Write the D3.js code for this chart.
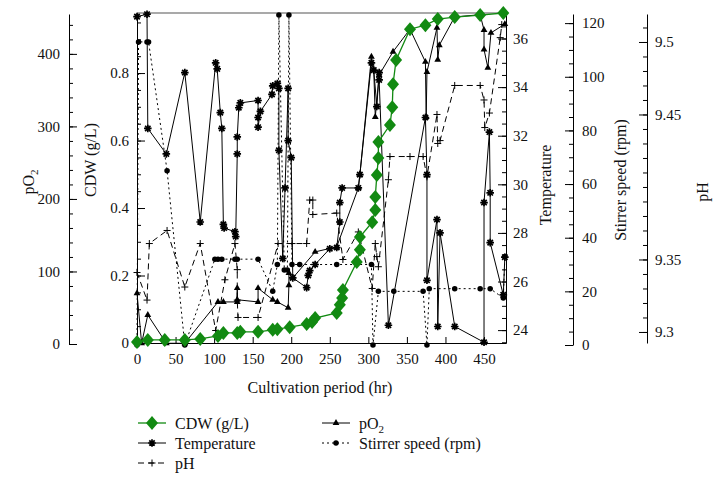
<!DOCTYPE html>
<html>
<head>
<meta charset="utf-8">
<script src="https://cdn.jsdelivr.net/npm/d3@7"></script>
<style>
body { margin: 0; background: #fff; }
text { font-family: "Liberation Serif", "DejaVu Serif", "Times New Roman", serif; }
</style>
</head>
<body>
<svg id="chart"></svg>
<script>
// values, each point is [hour, value]
let cdw = [[0,0.003],[14,0.009],[36,0.009],[62,0.009],[82,0.012],[105,0.021],[112,0.030],[130,0.030],[134,0.033],
  [157,0.033],[176,0.039],[182,0.041],[198,0.047],[220,0.056],[227,0.062],[231,0.074],[259,0.089],[263,0.113],
  [266,0.133],[267,0.157],[285,0.24],[289,0.276],[289,0.314],[305,0.358],[309,0.394],[309,0.433],[311,0.498],
  [313,0.548],[313,0.596],[328,0.646],[331,0.699],[332,0.767],[336,0.839],[354,0.930],[374,0.942],[390,0.960],
  [412,0.966],[445,0.972],[475,0.978]]

let temperature = [[0,36.9],[13,37.0],[14,32.3],[38,31.25],[62,34.6],[82,28.45],[102,35.0],[104,34.75],[108,32.95],
  [110,32.3],[112,28.35],[113,28.2],[127,28.05],[128,27.85],[130,31.25],[130,31.95],[132,33.15],[134,33.35],
  [157,33.45],[157,32.75],[157,32.35],[160,33.0],[175,33.7],[176,34.05],[182,34.15],[184,33.95],[184,31.4],
  [189,26.95],[192,29.85],[196,33.95],[196,31.8],[200,31.1],[202,26.15],[220,25.75],[222,26.25],[224,26.45],
  [231,26.7],[250,27.35],[259,27.4],[263,28.45],[263,29.25],[266,29.85],[287,29.85],[289,30.4],[304,35.0],
  [307,34.7],[311,33.2],[314,34.6],[314,34.3],[326,24.2],[374,32.75],[376,30.4],[376,26.05],[389,28.55],
  [390,24.15],[393,28.0],[412,24.15],[450,23.5],[450,29.25],[457,32.15],[458,29.65],[458,27.6],[475,25.45],[477,27.0]]

let ph = [[0,9.341],[13,9.322],[16,9.361],[39,9.370],[62,9.331],[82,9.361],[102,9.301],[114,9.336],[127,9.361],
  [130,9.343],[130,9.322],[131,9.310],[157,9.310],[183,9.361],[201,9.361],[220,9.361],[224,9.391],[228,9.391],
  [228,9.381],[259,9.382],[267,9.350],[287,9.369],[305,9.330],[309,9.361],[311,9.352],[313,9.345],[326,9.405],
  [328,9.421],[354,9.421],[371,9.421],[376,9.407],[389,9.450],[390,9.430],[393,9.432],[412,9.470],[445,9.470],
  [450,9.460],[451,9.441],[457,9.451],[471,9.503],[473,9.512]]

let po2 = [[0,70],[6,1],[14,40],[38,1],[62,1],[105,58],[112,58],[130,58],[130,77],[130,61],[157,58],[157,77],
  [176,61],[182,58],[196,50],[197,81],[197,98],[202,91],[231,127],[259,134],[287,215],[289,233],[304,396],
  [307,378],[309,313],[314,371],[332,403],[354,434],[374,389],[375,313],[376,375],[389,436],[390,392],[392,412],
  [412,451],[445,454],[450,433],[450,406],[455,381],[459,429],[477,441]]

let stirrer = [[0,0],[2,113],[13,113],[15,113],[39,65],[62,0],[101,32],[105,32],[110,32],[127,32],[130,32],
  [157,32],[176,20],[182,30],[184,123],[191,28],[195,28],[197,123],[201,30],[211,30],[259,30],[304,30],[306,0],
  [313,20],[333,20],[371,20],[376,0],[379,21],[412,21],[445,21],[458,21],[475,17.5],[477,33]]

let xTicks = [0, 50, 100, 150, 200, 250, 300, 350, 400, 450]
let po2Ticks = [0, 100, 200, 300, 400]
let cdwTicks = [0, 0.2, 0.4, 0.6, 0.8]
let tempTicks = [24, 26, 28, 30, 32, 34, 36]
let stirTicks = [0, 20, 40, 60, 80, 100, 120]
let phTicks = [9.3, 9.35, 9.45, 9.5]

let width = 717
let height = 483
let plotLeft = 137
let plotRight = 506
let plotTop = 13
let plotBottom = 343
let green = '#128a12'
let serif = '"Liberation Serif", "DejaVu Serif", "Times New Roman", serif'

let svg = d3.select('#chart').attr('width', width).attr('height', height)

let xScale = d3.scaleLinear().domain([0, 478.5]).range([plotLeft, plotRight])
let cdwScale = d3.scaleLinear().domain([0, 0.978]).range([plotBottom, plotTop])
let po2Scale = d3.scaleLinear().domain([0, 455]).range([344, 14])
let tempScale = d3.scaleLinear().domain([23.47, 37.05]).range([plotBottom, plotTop])
let stirScale = d3.scaleLinear().domain([0, 123.4]).range([345, 14])
let phScale = d3.scaleLinear().domain([9.2924, 9.5193]).range([plotBottom, 14])

let styleAxis = (g, size) => {
    g.attr('font-family', serif).attr('font-size', size)
    g.selectAll('text').attr('fill', '#111').style('font-family', serif)
}

// one vertical axis: major ticks with labels, then minor ticks
let drawAxis = (scale, x, side, majors, minors, fmt, padding) => {
    let make = side === 'left' ? d3.axisLeft : d3.axisRight
    svg.append('g')
        .attr('transform', 'translate(' + x + ',0)')
        .call(make(scale).tickValues(minors).tickSizeInner(-4).tickSizeOuter(0).tickFormat(''))
        .call(g => g.select('.domain').remove())
    let g = svg.append('g')
        .attr('transform', 'translate(' + x + ',0)')
        .call(make(scale).tickValues(majors).tickSizeInner(-8).tickSizeOuter(0).tickPadding(padding).tickFormat(fmt))
    styleAxis(g, 15)
}

let range = (a, b, step) => d3.range(0, Math.round((b - a) / step) + 1).map(i => +(a + i * step).toFixed(4))

drawAxis(po2Scale, 69, 'left', po2Ticks, range(0, 440, 20), d3.format('d'), 9)
drawAxis(cdwScale, plotLeft, 'left', cdwTicks, range(0, 0.95, 0.05), d => d === 0 ? '0' : d.toFixed(1), 8)
drawAxis(tempScale, plotRight, 'right', tempTicks, range(23.5, 37, 0.5), d3.format('d'), 7)
drawAxis(stirScale, 573, 'right', stirTicks, range(0, 120, 5), d3.format('d'), 9)
drawAxis(phScale, 647, 'right', phTicks, range(9.3, 9.51, 0.01), d => String(d), 8)

let xAxis = svg.append('g')
    .attr('transform', 'translate(0,' + plotBottom + ')')
    .call(d3.axisBottom(xScale).tickValues(xTicks).tickSizeInner(-6).tickSizeOuter(0).tickPadding(10))
styleAxis(xAxis, 15)

svg.append('line')
    .attr('x1', plotLeft).attr('x2', plotRight)
    .attr('y1', plotTop).attr('y2', plotTop)
    .attr('stroke', '#555').attr('stroke-width', 1.2)

// axis titles
let title = (text, x, y, rotate) => {
    let t = svg.append('text')
        .attr('transform', 'translate(' + x + ',' + y + ')' + (rotate ? ' rotate(-90)' : ''))
        .attr('text-anchor', 'middle')
        .attr('dy', '0.35em')
        .attr('font-size', 16)
        .style('font-family', serif)
        .attr('fill', '#111')
    return t.text(text)
}
let po2Title = title('pO', 28, 182, true)
po2Title.append('tspan').attr('font-size', 11).attr('dy', 4).text('2')
title('CDW (g/L)', 90, 160, true)
title('Temperature', 545, 185, true)
title('Stirrer speed (rpm)', 620, 180, true)
title('pH', 702, 192, true)
title('Cultivation period (hr)', 320, 387, false)

// markers
let star = 'M-3.8,0H3.8M0,-3.8V3.8M-2.7,-2.7L2.7,2.7M-2.7,2.7L2.7,-2.7'
let plus = 'M-3.5,0H3.5M0,-3.5V3.5'
let diamond = 'M0,-7L6,0L0,7L-6,0Z'
let triangle = d3.symbol(d3.symbolTriangle, 20)()

let markerStyles = {
    star: m => m.attr('d', star).attr('fill', 'none').attr('stroke', '#000').attr('stroke-width', 1.7),
    plus: m => m.attr('d', plus).attr('fill', 'none').attr('stroke', '#000').attr('stroke-width', 1),
    diamond: m => m.attr('d', diamond).attr('fill', green),
    triangle: m => m.attr('d', triangle).attr('fill', '#000'),
    circle: m => m.attr('d', d3.symbol(d3.symbolCircle, 24)()).attr('fill', '#000')
}

let drawSeries = (values, yScale, color, lineWidth, dash, marker) => {
    let line = d3.line().x(d => xScale(d[0])).y(d => yScale(d[1]))
    let g = svg.append('g')
    g.append('path')
        .datum(values)
        .attr('d', line)
        .attr('fill', 'none')
        .attr('stroke', color)
        .attr('stroke-width', lineWidth)
        .attr('stroke-dasharray', dash)
    g.selectAll('path.mark')
        .data(values)
        .enter()
        .append('path')
        .attr('class', 'mark')
        .attr('transform', d => 'translate(' + xScale(d[0]) + ',' + yScale(d[1]) + ')')
        .call(markerStyles[marker])
}

drawSeries(stirrer, stirScale, '#000', 1, '2,3', 'circle')
drawSeries(ph, phScale, '#000', 1, '6,4', 'plus')
drawSeries(po2, po2Scale, '#000', 1, null, 'triangle')
drawSeries(temperature, tempScale, '#000', 1, null, 'star')
drawSeries(cdw, cdwScale, green, 1.3, null, 'diamond')

// legend
let legendItems = [
    {label: 'CDW (g/L)', x: 138, y: 423, color: green, dash: null, marker: 'diamond'},
    {label: 'Temperature', x: 138, y: 443, color: '#000', dash: null, marker: 'star'},
    {label: 'pH', x: 138, y: 463, color: '#000', dash: '6,4', marker: 'plus'},
    {label: 'pO', x: 322, y: 423, color: '#000', dash: null, marker: 'triangle', sub: '2'},
    {label: 'Stirrer speed (rpm)', x: 322, y: 443, color: '#000', dash: '2,3', marker: 'circle'}
]

legendItems.forEach(item => {
    let g = svg.append('g').attr('transform', 'translate(' + item.x + ',' + item.y + ')')
    g.append('line')
        .attr('x1', 0).attr('x2', 28)
        .attr('stroke', item.color)
        .attr('stroke-width', item.color === green ? 1.3 : 1)
        .attr('stroke-dasharray', item.dash)
    g.append('path')
        .attr('transform', 'translate(14,0)')
        .call(markerStyles[item.marker])
    let t = g.append('text')
        .attr('x', 37)
        .attr('dy', '0.35em')
        .attr('font-size', 16)
        .style('font-family', serif)
        .attr('fill', '#111')
        .text(item.label)
    if (item.sub) {
        t.append('tspan').attr('font-size', 11).attr('dy', 4).text(item.sub)
    }
})
</script>
</body>
</html>
